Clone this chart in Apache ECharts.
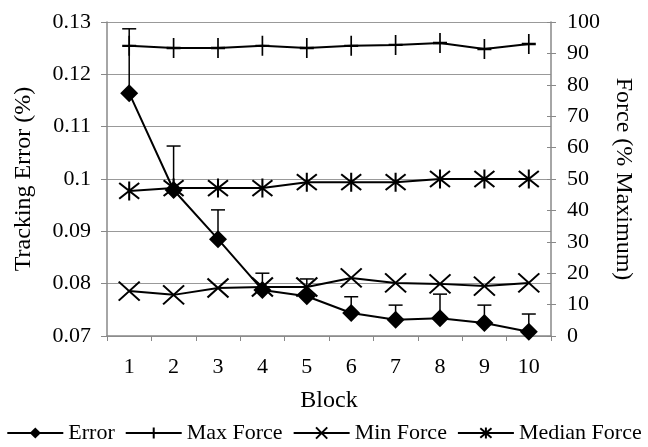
<!DOCTYPE html>
<html><head><meta charset="utf-8">
<script src="https://cdn.jsdelivr.net/npm/echarts@6/dist/echarts.min.js"></script>
<style>html,body{margin:0;padding:0;background:#fff}#c{width:648px;height:447px}</style>
</head><body><div id="c"></div>
<script>
const blocks = ['1','2','3','4','5','6','7','8','9','10'];
const errorMean = [0.1164, 0.0979, 0.0885, 0.0788, 0.0776, 0.0744, 0.0731, 0.0734, 0.0725, 0.0708];
const errorTop  = [0.1287, 0.1063, 0.0941, 0.0820, 0.0809, 0.0775, 0.0759, 0.0780, 0.0759, 0.0742];
const maxForce = [92.4, 91.7, 91.7, 92.4, 91.7, 92.4, 92.7, 93.3, 91.4, 93.0];
const minForce = [14.3, 13.1, 15.3, 15.6, 15.6, 18.5, 16.9, 16.6, 15.9, 16.9];
const medianForce = [46.2, 47.1, 47.1, 47.1, 49.0, 49.0, 49.0, 50.0, 50.0, 50.0];

const FONT = 'Liberation Serif';
const chart = echarts.init(document.getElementById('c'));
const symPlus = 'path://M0,-10L0,10M-7,0L7,0';
const symX = 'path://M0,0L10,10M10,0L0,10';
const symStar = 'path://M0,0L10,10M10,0L0,10M5,-1L5,11';
const lineS = {color:'#000', width:2};
const strokeItem = {color:'#000', borderColor:'#000', borderWidth:2};

chart.setOption({
  animation:false,
  textStyle:{fontFamily:FONT},
  grid:{left:107, right:97, top:22, bottom:111},
  legend:{
    data:['Error','Max Force','Min Force','Median Force'],
    top:422, left:'center', padding:0, itemWidth:56, itemHeight:14, itemGap:10,
    textStyle:{fontFamily:FONT, fontSize:22, color:'#000'}
  },
  xAxis:{
    type:'category', data:blocks, name:'Block', nameLocation:'middle', nameGap:53,
    nameTextStyle:{fontFamily:FONT, fontSize:24, color:'#000'},
    axisLine:{lineStyle:{color:'#888', width:1.5}},
    axisTick:{show:true, length:5, lineStyle:{color:'#888'}},
    axisLabel:{fontFamily:FONT, fontSize:22, color:'#000', margin:20}
  },
  yAxis:[
    {type:'value', min:0.07, max:0.13, interval:0.01,
     name:'Tracking Error (%)', nameLocation:'middle', nameGap:71, nameRotate:90,
     nameTextStyle:{fontFamily:FONT, fontSize:24, color:'#000'},
     axisLine:{show:true, lineStyle:{color:'#888', width:1.5}},
     axisTick:{show:true, length:6, lineStyle:{color:'#888'}},
     splitLine:{lineStyle:{color:'#999', width:1.2}},
     axisLabel:{fontFamily:FONT, fontSize:22, color:'#000', margin:16,
       formatter:v=>String(Math.round(v*100)/100)}},
    {type:'value', min:0, max:100, interval:10, position:'right',
     name:'Force (% Maximum)', nameLocation:'middle', nameGap:48, nameRotate:-90,
     nameTextStyle:{fontFamily:FONT, fontSize:24, color:'#000'},
     axisLine:{show:true, lineStyle:{color:'#888', width:1.5}},
     axisTick:{show:true, length:5, lineStyle:{color:'#888'}},
     splitLine:{show:false},
     axisLabel:{fontFamily:FONT, fontSize:22, color:'#000', margin:16}},
    {type:'value', min:0, max:100, interval:10, position:'right',
     axisLine:{show:false}, axisTick:{show:true, inside:true, length:4, lineStyle:{color:'#888'}},
     splitLine:{show:false}, axisLabel:{show:false}}
  ],
  series:[
    {type:'custom', name:'errbar', yAxisIndex:0, z:1,
     data:errorMean.map((m,i)=>[i, m, errorTop[i]]),
     renderItem:(params, api)=>{
       const b = api.coord([api.value(0), api.value(1)]);
       const t = api.coord([api.value(0), api.value(2)]);
       const st = {stroke:'#000', lineWidth:1.5};
       return {type:'group', children:[
         {type:'line', shape:{x1:b[0], y1:b[1], x2:t[0], y2:t[1]}, style:st},
         {type:'line', shape:{x1:t[0]-7, y1:t[1], x2:t[0]+7, y2:t[1]}, style:st}
       ]};
     }},
    {type:'line', name:'Error', yAxisIndex:0, data:errorMean, z:5,
     symbol:'diamond', symbolSize:18, lineStyle:lineS, itemStyle:{color:'#000'}},
    {type:'line', name:'Max Force', yAxisIndex:1, data:maxForce, z:3,
     symbol:symPlus, symbolSize:[14,20], lineStyle:lineS, itemStyle:strokeItem},
    {type:'line', name:'Min Force', yAxisIndex:1, data:minForce, z:3,
     symbol:symX, symbolSize:[21,19], lineStyle:lineS, itemStyle:strokeItem},
    {type:'line', name:'Median Force', yAxisIndex:1, data:medianForce, z:3,
     symbol:symStar, symbolSize:[20,19], lineStyle:lineS, itemStyle:strokeItem}
  ]
});
</script></body></html>
